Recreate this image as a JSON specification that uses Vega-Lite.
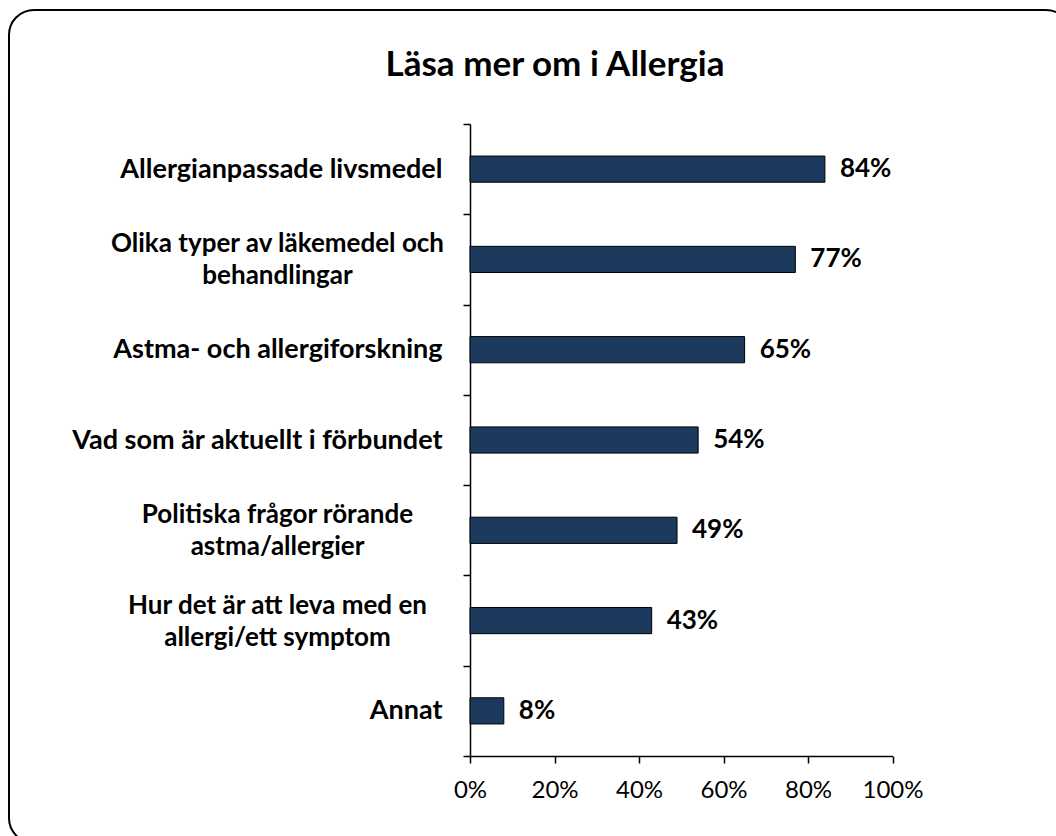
{
  "$schema": "https://vega.github.io/schema/vega-lite/v6.json",
  "width": 1062,
  "height": 833,
  "autosize": {"type": "none"},
  "padding": {"left": 9, "top": 10, "right": -15, "bottom": -7},
  "background": "white",
  "config": {
    "view": {"stroke": "black", "strokeWidth": 2, "cornerRadius": 25},
    "font": "Lato"
  },
  "title": {
    "text": "Läsa mer om i Allergia",
    "frame": "group",
    "anchor": "middle",
    "orient": "top",
    "offset": -115,
    "baseline": "alphabetic",
    "dx": 15,
    "font": "Lato",
    "fontSize": 35,
    "fontWeight": "bold",
    "color": "black"
  },
  "data": {
    "values": [
      {"kategori": "Allergianpassade livsmedel", "andel": 0.84},
      {"kategori": "Olika typer av läkemedel och|behandlingar", "andel": 0.77},
      {"kategori": "Astma- och allergiforskning", "andel": 0.65},
      {"kategori": "Vad som är aktuellt i förbundet", "andel": 0.54},
      {"kategori": "Politiska frågor rörande|astma/allergier", "andel": 0.49},
      {"kategori": "Hur det är att leva med en|allergi/ett symptom", "andel": 0.43},
      {"kategori": "Annat", "andel": 0.08}
    ]
  },
  "layer": [
    {
      "mark": {"type": "bar", "color": "#1b3a5e", "stroke": "black", "strokeWidth": 1, "height": {"band": 0.29}},
      "encoding": {
        "y": {
          "field": "kategori",
          "type": "nominal",
          "sort": null,
          "scale": {"range": [114, 746], "paddingInner": 0, "paddingOuter": 0},
          "axis": {
            "orient": "left",
            "offset": -461,
            "title": null,
            "domain": true,
            "domainColor": "black",
            "domainWidth": 1.5,
            "ticks": true,
            "tickBand": "extent",
            "tickSize": 7,
            "tickColor": "black",
            "tickWidth": 1.5,
            "labelExpr": "indexof(datum.label, '|') >= 0 ? '' : datum.label",
            "labelAlign": "right",
            "labelBaseline": "middle",
            "labelPadding": 21,
            "labelFont": "Lato",
            "labelFontSize": 27,
            "labelFontWeight": "bold",
            "labelColor": "black",
            "labelLimit": 500,
            "grid": false
          }
        },
        "x": {
          "field": "andel",
          "type": "quantitative",
          "scale": {"domain": [0, 1], "range": [461, 883.5]},
          "axis": {
            "orient": "bottom",
            "offset": -87,
            "title": null,
            "values": [0, 0.2, 0.4, 0.6, 0.8, 1],
            "format": ".0%",
            "domain": true,
            "domainColor": "black",
            "domainWidth": 1.5,
            "ticks": true,
            "tickSize": 7,
            "tickColor": "black",
            "tickWidth": 1.5,
            "labelPadding": 15,
            "labelFont": "Lato",
            "labelFontSize": 24,
            "labelColor": "black",
            "labelFlush": false,
            "grid": false
          }
        }
      }
    },
    {
      "mark": {"type": "text", "align": "left", "baseline": "middle", "dx": 15, "font": "Lato", "fontSize": 26, "fontWeight": "bold", "color": "black"},
      "encoding": {
        "y": {
          "field": "kategori",
          "type": "nominal",
          "sort": null,
          "axis": {
            "orient": "left",
            "offset": -461,
            "title": null,
            "domain": false,
            "ticks": false,
            "tickSize": 0,
            "labelExpr": "indexof(datum.label, '|') >= 0 ? split(datum.label, '|') : ''",
            "labelAlign": "center",
            "labelBaseline": "middle",
            "labelPadding": 193,
            "labelOffset": -15,
            "labelLineHeight": 32,
            "labelFont": "Lato",
            "labelFontSize": 26,
            "labelFontWeight": "bold",
            "labelColor": "black",
            "labelLimit": 500,
            "grid": false
          }
        },
        "x": {"field": "andel", "type": "quantitative"},
        "text": {"field": "andel", "type": "quantitative", "format": ".0%"}
      }
    }
  ],
  "resolve": {"axis": {"y": "independent", "x": "shared"}}
}
